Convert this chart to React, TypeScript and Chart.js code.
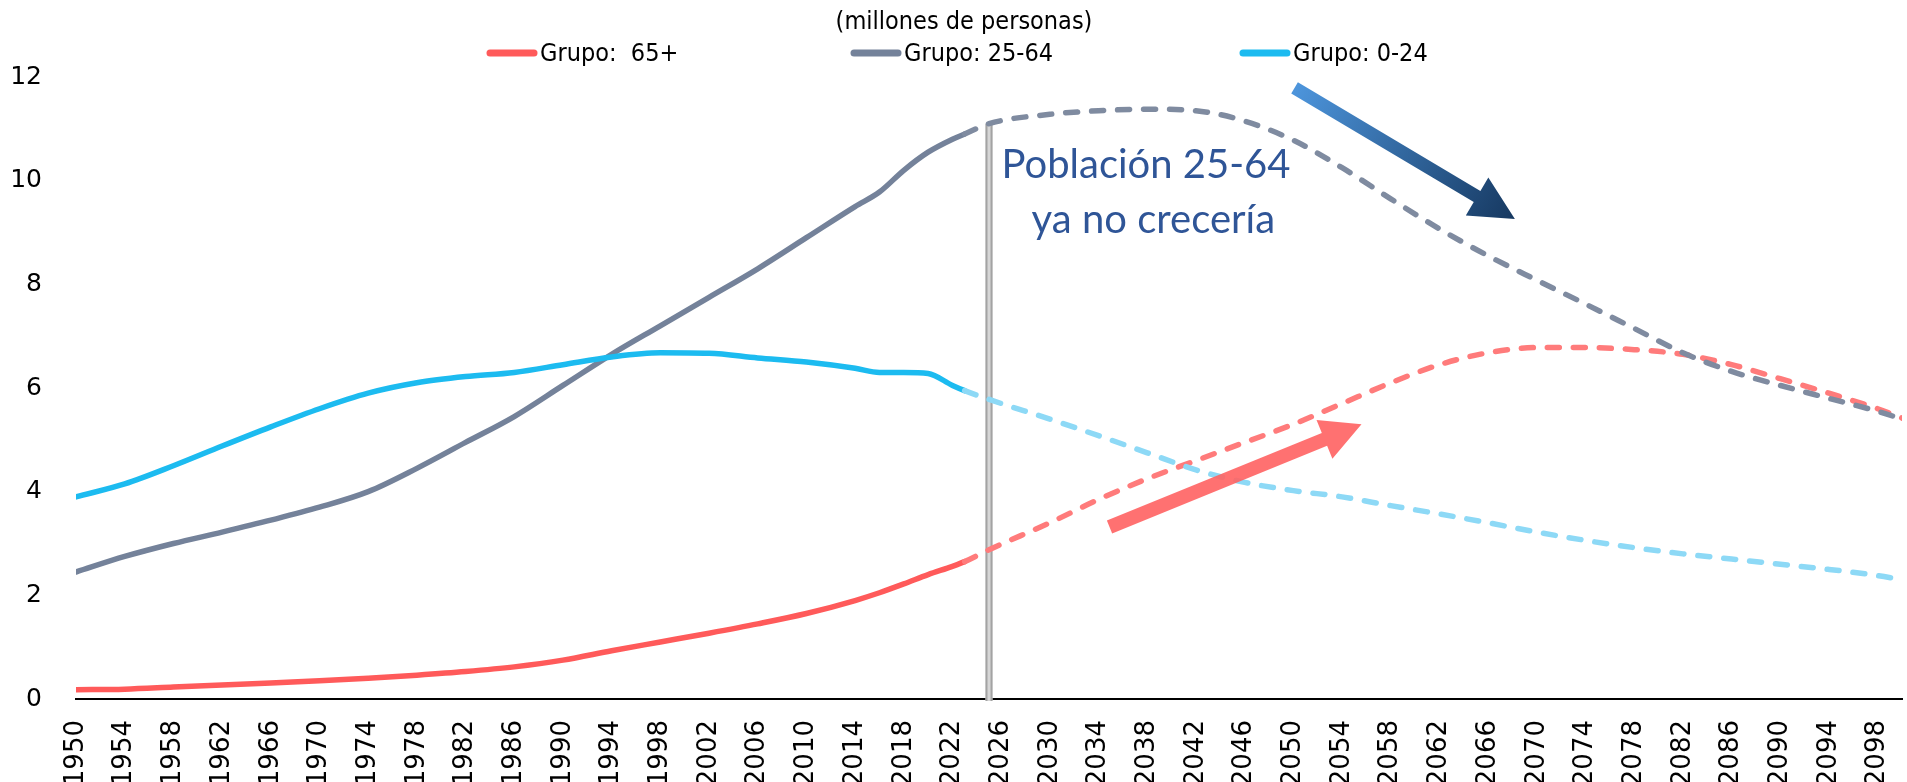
import React, { useEffect, useRef } from "react";
import { Chart, registerables } from "chart.js";

Chart.register(...registerables);

// ---------------- data ----------------
const YEARS = [
  1950, 1954, 1958, 1962, 1966, 1970, 1974, 1978, 1982, 1986, 1990, 1994, 1998,
  2002, 2006, 2010, 2014, 2016, 2018, 2020, 2022, 2023, 2025, 2030, 2034, 2038,
  2042, 2046, 2050, 2054, 2058, 2062, 2066, 2070, 2074, 2078, 2082, 2086, 2090,
  2094, 2098, 2100,
];

const GROUP_65 = [
  0.18, 0.19, 0.23, 0.27, 0.31, 0.35, 0.4, 0.46, 0.53, 0.62, 0.75, 0.93, 1.1,
  1.27, 1.45, 1.65, 1.9, 2.05, 2.22, 2.4, 2.56, 2.65, 2.88, 3.4, 3.85, 4.25,
  4.6, 4.95, 5.3, 5.7, 6.1, 6.45, 6.68, 6.78, 6.78, 6.74, 6.65, 6.45, 6.18,
  5.9, 5.6, 5.42,
];

const GROUP_25_64 = [
  2.45, 2.75, 3.0, 3.22, 3.45, 3.7, 4.0, 4.45, 4.95, 5.45, 6.05, 6.65, 7.2,
  7.75, 8.3, 8.9, 9.5, 9.78, 10.2, 10.55, 10.8, 10.9, 11.1, 11.28, 11.35, 11.38,
  11.35, 11.15, 10.78, 10.25, 9.65, 9.07, 8.55, 8.08, 7.62, 7.15, 6.68, 6.32,
  6.05, 5.8, 5.55, 5.4,
];

const GROUP_0_24 = [
  3.9, 4.15, 4.5, 4.88, 5.25, 5.6, 5.9, 6.1, 6.22, 6.3, 6.45, 6.6, 6.68, 6.67,
  6.58, 6.5, 6.38, 6.3, 6.3, 6.28, 6.05, 5.95, 5.78, 5.4, 5.08, 4.75, 4.42,
  4.18, 4.02, 3.9, 3.73, 3.57, 3.4, 3.22, 3.06, 2.92, 2.8, 2.7, 2.6, 2.5, 2.38,
  2.3,
];

const TICK_YEARS = [
  1950, 1954, 1958, 1962, 1966, 1970, 1974, 1978, 1982, 1986, 1990, 1994, 1998,
  2002, 2006, 2010, 2014, 2018, 2022, 2026, 2030, 2034, 2038, 2042, 2046, 2050,
  2054, 2058, 2062, 2066, 2070, 2074, 2078, 2082, 2086, 2090, 2094, 2098,
];

const Y_MIN = 0;
const Y_MAX = 12;
const Y_STEP = 2;

const SERIES_LABELS = ["Grupo:  65+", "Grupo: 25-64", "Grupo: 0-24"];
const UNITS_LABEL = "(millones de personas)";
const NOTE_LINES = ["Población 25-64", "ya no crecería"];

const PROJECTION_START = 2023; // dashed from here on
const MARKER_YEAR = 2025; // vertical double line

// annotation anchors in data space [year, value]
const NOTE_POS = [
  [2037.9, 10.05],
  [2038.5, 9.0],
];
const BLUE_ARROW = [
  [2050.1, 11.79],
  [2068.2, 9.26],
];
const RED_ARROW = [
  [2034.9, 3.32],
  [2055.6, 5.3],
];

// ---------------- styles ----------------
const RED = "#FF5A5A";
const RED_DASH = "#FF7B7B";
const GRAY = "#74829A";
const GRAY_DASH = "#7F8BA0";
const CYAN = "#1CBBF0";
const CYAN_DASH = "#8DD9F6";

const LEGEND_FONT = "25px 'DejaVu Sans Condensed', 'Liberation Sans Narrow', sans-serif";
const NOTE_FONT = "40px Lato, 'Open Sans', sans-serif";

function drawArrow(
  ctx: CanvasRenderingContext2D,
  x1: number,
  y1: number,
  x2: number,
  y2: number,
  shaft: number,
  headLen: number,
  headW: number,
  fill: string | CanvasGradient
) {
  const dx = x2 - x1;
  const dy = y2 - y1;
  const len = Math.hypot(dx, dy);
  const ux = dx / len;
  const uy = dy / len;
  const nx = -uy;
  const ny = ux;
  const bx = x2 - ux * headLen;
  const by = y2 - uy * headLen;
  ctx.beginPath();
  ctx.moveTo(x1 + (nx * shaft) / 2, y1 + (ny * shaft) / 2);
  ctx.lineTo(bx + (nx * shaft) / 2, by + (ny * shaft) / 2);
  ctx.lineTo(bx + (nx * headW) / 2, by + (ny * headW) / 2);
  ctx.lineTo(x2, y2);
  ctx.lineTo(bx - (nx * headW) / 2, by - (ny * headW) / 2);
  ctx.lineTo(bx - (nx * shaft) / 2, by - (ny * shaft) / 2);
  ctx.lineTo(x1 - (nx * shaft) / 2, y1 - (ny * shaft) / 2);
  ctx.closePath();
  ctx.fillStyle = fill;
  ctx.fill();
}

const overlayPlugin = {
  id: "overlay",
  beforeDatasetsDraw(chart: any) {
    const { ctx, scales } = chart;
    const xs = scales.x;
    const ys = scales.y;
    const idx = YEARS.indexOf(MARKER_YEAR);
    const x = xs.getPixelForValue(MARKER_YEAR);
    const top = ys.getPixelForValue(GROUP_25_64[idx]);
    const bottom = ys.getPixelForValue(Y_MIN) + 2;
    ctx.save();
    ctx.fillStyle = "#D6D6D6";
    ctx.fillRect(x - 3.5, top, 7, bottom - top);
    ctx.strokeStyle = "#A3A3A3";
    ctx.lineWidth = 2;
    ctx.beginPath();
    ctx.moveTo(x - 2.5, top);
    ctx.lineTo(x - 2.5, bottom);
    ctx.moveTo(x + 2.5, top);
    ctx.lineTo(x + 2.5, bottom);
    ctx.stroke();
    ctx.restore();
  },
  afterDatasetsDraw(chart: any) {
    const { ctx, scales } = chart;
    const xs = scales.x;
    const ys = scales.y;
    const px = (p: number[]) => [xs.getPixelForValue(p[0]), ys.getPixelForValue(p[1])];
    ctx.save();
    // blue arrow
    const [bx1, by1] = px(BLUE_ARROW[0]);
    const [bx2, by2] = px(BLUE_ARROW[1]);
    const grad = ctx.createLinearGradient(bx1, by1, bx2, by2);
    grad.addColorStop(0, "#4D95DC");
    grad.addColorStop(1, "#163860");
    drawArrow(ctx, bx1, by1, bx2, by2, 13, 44, 44, grad);
    // red arrow
    const [rx1, ry1] = px(RED_ARROW[0]);
    const [rx2, ry2] = px(RED_ARROW[1]);
    ctx.globalAlpha = 0.9;
    drawArrow(ctx, rx1, ry1, rx2, ry2, 14, 40, 42, "#FF6262");
    ctx.globalAlpha = 1;
    // note text
    ctx.font = NOTE_FONT;
    ctx.fillStyle = "#2F5597";
    ctx.textAlign = "center";
    ctx.textBaseline = "alphabetic";
    NOTE_LINES.forEach((line, i) => {
      const [tx, ty] = px(NOTE_POS[i]);
      ctx.fillText(line, tx, ty);
    });
    ctx.restore();
  },
  afterDraw(chart: any) {
    const { ctx } = chart;
    ctx.save();
    ctx.font = LEGEND_FONT;
    ctx.fillStyle = "#000";
    ctx.textBaseline = "middle";
    ctx.textAlign = "center";
    ctx.fillText(UNITS_LABEL, 964, 22);
    const colors = [RED, GRAY, CYAN];
    const starts = [487, 851, 1240];
    ctx.textAlign = "left";
    SERIES_LABELS.forEach((label, i) => {
      const x0 = starts[i];
      ctx.strokeStyle = colors[i];
      ctx.lineWidth = 7;
      ctx.lineCap = "round";
      ctx.beginPath();
      ctx.moveTo(x0 + 3, 53);
      ctx.lineTo(x0 + 47, 53);
      ctx.stroke();
      ctx.fillStyle = "#000";
      ctx.fillText(label, x0 + 53, 54);
    });
    ctx.restore();
  },
};

export default function App() {
  const canvasRef = useRef<HTMLCanvasElement>(null);

  useEffect(() => {
    document.body.style.margin = "0";
    document.body.style.overflow = "hidden";
    const canvas = canvasRef.current;
    if (!canvas) return;

    const points = (vals: number[]) => YEARS.map((x, i) => ({ x, y: vals[i] }));
    const lineDs = (label: string, vals: number[], solid: string, dashed: string) => ({
      label,
      data: points(vals),
      borderColor: solid,
      borderWidth: 5.5,
      borderCapStyle: "round" as const,
      borderJoinStyle: "round" as const,
      pointRadius: 0,
      pointHoverRadius: 0,
      cubicInterpolationMode: "monotone" as const,
      fill: false,
      segment: {
        borderColor: (c: any) => (c.p0.parsed.x >= PROJECTION_START ? dashed : solid),
        borderDash: (c: any) => (c.p0.parsed.x >= PROJECTION_START ? [12, 14] : []),
      },
    });

    const chart = new Chart(canvas, {
      type: "line",
      data: {
        datasets: [
          lineDs(SERIES_LABELS[2], GROUP_0_24, CYAN, CYAN_DASH),
          lineDs(SERIES_LABELS[1], GROUP_25_64, GRAY, GRAY_DASH),
          lineDs(SERIES_LABELS[0], GROUP_65, RED, RED_DASH),
        ],
      },
      options: {
        responsive: false,
        animation: false,
        events: [],
        layout: { padding: { top: 77, right: 5, left: 0, bottom: 0 } },
        plugins: {
          legend: { display: false },
          title: { display: false },
          tooltip: { enabled: false },
        },
        scales: {
          x: {
            type: "linear",
            min: 1950,
            max: 2100,
            grid: { display: false, drawTicks: false },
            border: { display: true, color: "#000", width: 2 },
            afterBuildTicks: (scale: any) => {
              scale.ticks = TICK_YEARS.map((v) => ({ value: v }));
            },
            afterFit: (scale: any) => {
              scale.height = 83;
              scale.paddingLeft = 0;
              scale.paddingRight = 0;
            },
            ticks: {
              autoSkip: false,
              minRotation: 90,
              maxRotation: 90,
              padding: 21,
              color: "#000",
              font: { family: "'DejaVu Sans', sans-serif", size: 26 },
              callback: (v: any) => String(v),
            },
          },
          y: {
            min: Y_MIN,
            max: Y_MAX,
            grid: { display: false, drawTicks: false },
            border: { display: false },
            afterFit: (scale: any) => {
              scale.width = 76;
            },
            ticks: {
              stepSize: Y_STEP,
              padding: 34,
              color: "#000",
              font: { family: "'DejaVu Sans', sans-serif", size: 25 },
            },
          },
        },
      },
      plugins: [overlayPlugin],
    });

    return () => chart.destroy();
  }, []);

  return (
    <div style={{ width: 1907, height: 782, position: "relative", background: "#fff" }}>
      <canvas ref={canvasRef} width={1907} height={782} style={{ display: "block" }} />
    </div>
  );
}
